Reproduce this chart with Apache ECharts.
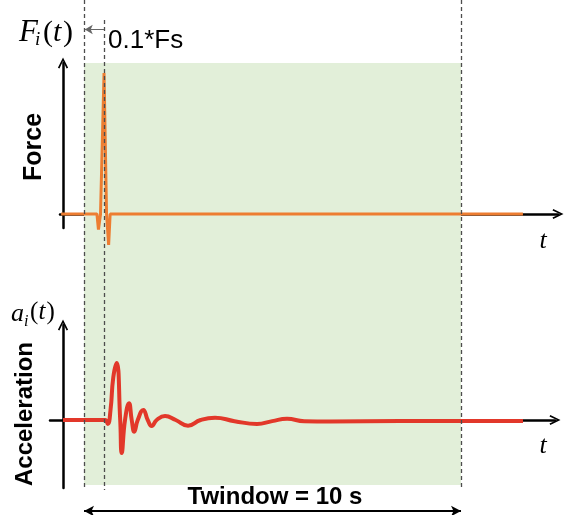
<!DOCTYPE html>
<html><head><meta charset="utf-8">
<script src="https://cdn.jsdelivr.net/npm/echarts@6/dist/echarts.min.js"></script>
<style>html,body{margin:0;padding:0;background:#fff}#c{width:571px;height:515px}</style>
</head><body><div id="c"></div>
<script>
// Force impulse F_i(t) (time in s, normalised amplitude)
const forceTime  = [-0.05, 0.90, 0.94, 0.995, 1.088, 1.155, 1.21, 1.25, 12.20];
const forceValue = [0, 0, -0.11, 0, 1.0, 0, -0.22, 0, 0];
// Acceleration response a_i(t)
const accTime  = [0, 1.114, 1.186, 1.26, 1.334, 1.424, 1.517, 1.557, 1.645, 1.751, 1.822, 1.891, 1.982, 2.130, 2.247, 2.353, 2.485, 2.706, 2.99, 3.316, 3.65, 4.032, 4.55, 5.146, 5.55, 5.942, 6.40, 7.082, 8.939, 10.531, 12.202];
const accValue = [0, 0, -0.07, 0.175, 0.75, 1.0, 0, -0.58, 0, 0.295, 0, -0.205, 0, 0.175, 0, -0.105, 0, 0.07, 0, -0.10, 0, 0.04, -0.02, -0.07, -0.02, 0.02, -0.02, -0.025, -0.018, -0.018, -0.018];
// Time window and markers
const windowRange = [0.557, 10.557];
const impulseTime = 1.088;
const labels = { force: 'Force', acc: 'Acceleration', window: 'Twindow = 10 s', pre: '0.1*Fs' };

const chevron = 'path://M0,12 L6,0 L12,12 L10.2,12.9 L6,4.2 L1.8,12.9 Z';
const zip = (a, b) => a.map((v, i) => [v, b[i]]);
const axisLineStyle = { color: '#000', width: 2.5 };
const hidden = { axisTick: { show: false }, axisLabel: { show: false }, splitLine: { show: false } };
const txt = (x, y, text, font, align, extra) => Object.assign({ type: 'text', x: x, y: y,
  style: { text: text, font: font, fill: '#000', align: align, verticalAlign: 'middle', textAlign: align, textVerticalAlign: 'middle' } }, extra || {});

const chart = echarts.init(document.getElementById('c'));
chart.setOption({
  animation: false,
  grid: [
    { left: 60, right: 13, top: 63, bottom: 287 },
    { left: 50, right: 16, top: 325, bottom: 27 },
    { left: 50, right: 16, top: 0, bottom: 0 }
  ],
  xAxis: [
    Object.assign({ type: 'value', gridIndex: 0, min: -0.08, max: 13.13,
      axisLine: { lineStyle: axisLineStyle, symbol: ['none', chevron], symbolSize: [12, 11] } }, hidden),
    Object.assign({ type: 'value', gridIndex: 1, min: -0.345, max: 13.05,
      axisLine: { lineStyle: axisLineStyle, symbol: ['none', chevron], symbolSize: [12, 11] } }, hidden),
    { type: 'value', gridIndex: 2, min: -0.345, max: 13.05, show: false }
  ],
  yAxis: [
    Object.assign({ type: 'value', gridIndex: 0, min: -0.0993, max: 1.071,
      axisLine: { lineStyle: axisLineStyle, symbol: ['none', chevron], symbolSize: [12, 11] } }, hidden),
    Object.assign({ type: 'value', gridIndex: 1, min: -1.193, max: 1.667,
      axisLine: { lineStyle: axisLineStyle, symbol: ['none', chevron], symbolSize: [12, 11] } }, hidden),
    { type: 'value', gridIndex: 2, min: 0, max: 515, inverse: true, show: false }
  ],
  series: [
    { type: 'line', xAxisIndex: 2, yAxisIndex: 2, data: [], z: -1, silent: true,
      markArea: { silent: true, itemStyle: { color: '#E2EFD9' },
        data: [[{ coord: [windowRange[0], 63] }, { coord: [windowRange[1], 485] }]] } },
    { type: 'line', xAxisIndex: 0, yAxisIndex: 0, data: zip(forceTime, forceValue), showSymbol: false,
      clip: false, lineStyle: { color: '#ED7D31', width: 3 }, z: 3 },
    { type: 'line', xAxisIndex: 1, yAxisIndex: 1, data: zip(accTime, accValue), showSymbol: false,
      clip: false, smooth: 0.5, lineStyle: { color: '#E2382A', width: 4 }, z: 3 },
    { type: 'line', xAxisIndex: 2, yAxisIndex: 2, data: [], z: 10, silent: true,
      markLine: { silent: true, symbol: ['none', 'none'], label: { show: false },
        lineStyle: { color: '#4d4d4d', width: 1.3, type: [4, 3] },
        data: [
          [{ coord: [windowRange[0], 0] }, { coord: [windowRange[0], 490] }],
          [{ coord: [impulseTime, 20] }, { coord: [impulseTime, 490] }],
          [{ coord: [windowRange[1], 0] }, { coord: [windowRange[1], 490] }]
        ] } },
    { type: 'line', xAxisIndex: 2, yAxisIndex: 2, data: [], z: 10, silent: true,
      markLine: { silent: true, symbol: ['none', 'arrow'], symbolSize: [7, 8], label: { show: false },
        lineStyle: { color: '#666', width: 1, type: 'solid' },
        data: [[{ coord: [impulseTime, 29.5] }, { coord: [windowRange[0] + 0.02, 29.5] }]] } },
    { type: 'line', xAxisIndex: 2, yAxisIndex: 2, data: [], z: 10, silent: true,
      markLine: { silent: true, symbol: ['arrow', 'arrow'], symbolSize: [8, 10], label: { show: false },
        lineStyle: { color: '#000', width: 2, type: 'solid' },
        data: [[{ coord: [windowRange[0], 511] }, { coord: [windowRange[1], 511] }]] } }
  ],
  graphic: [
    txt(19, 33, 'F', 'italic 31px "Liberation Serif"', 'left'),
    txt(35, 40, 'i', 'italic 19px "Liberation Serif"', 'left'),
    txt(43, 33, '(', '30px "Liberation Serif"', 'left'),
    txt(53, 33, 't', 'italic 30px "Liberation Serif"', 'left'),
    txt(63, 33, ')', '30px "Liberation Serif"', 'left'),
    txt(108, 41, labels.pre, '26px "Liberation Sans"', 'left'),
    txt(11, 314, 'a', 'italic 26px "Liberation Serif"', 'left'),
    txt(24, 322, 'i', 'italic 16px "Liberation Serif"', 'left'),
    txt(30, 312, '(', '25px "Liberation Serif"', 'left'),
    txt(38.5, 312, 't', 'italic 25px "Liberation Serif"', 'left'),
    txt(46.5, 312, ')', '25px "Liberation Serif"', 'left'),
    txt(543, 241, 't', 'italic 26px "Liberation Serif"', 'center'),
    txt(543, 446, 't', 'italic 26px "Liberation Serif"', 'center'),
    txt(34, 147, labels.force, 'bold 25px "Liberation Sans"', 'center', { rotation: Math.PI / 2 }),
    txt(25, 414, labels.acc, 'bold 24px "Liberation Sans"', 'center', { rotation: Math.PI / 2 }),
    txt(275, 497, labels.window, 'bold 24px "Liberation Sans"', 'center')
  ]
});
</script></body></html>
